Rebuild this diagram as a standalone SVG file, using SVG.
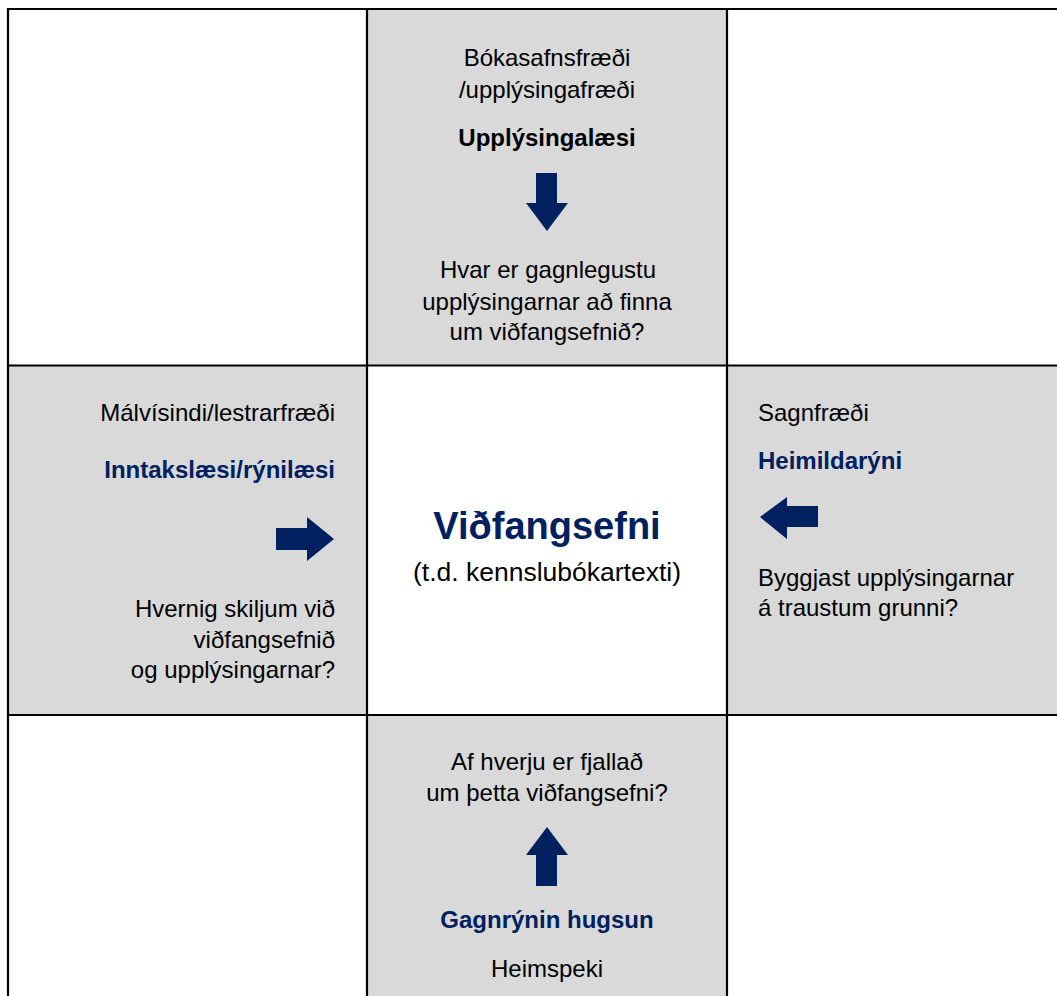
<svg xmlns="http://www.w3.org/2000/svg" width="1057" height="996" viewBox="0 0 1057 996">
<style>
.bg{fill:#ffffff}
.cell{fill:#d9d9d9}
.grid{stroke:#000;stroke-width:2.2;fill:none}
.t{font-family:"Liberation Sans",Arial,sans-serif;font-size:24px;fill:#000}
.b{font-weight:bold}
.n{fill:#002060;font-weight:bold}
.arrow{fill:#002060}
</style>
<rect class="bg" x="0" y="0" width="1057" height="996"/>
<g id="top-cell">
<rect class="cell" x="367" y="9" width="360" height="356"/>
<text class="t" x="547" y="66" text-anchor="middle">Bókasafnsfræði</text>
<text class="t" x="547" y="98" text-anchor="middle">/upplýsingafræði</text>
<text class="t b" x="547" y="146" text-anchor="middle">Upplýsingalæsi</text>
<text class="t" x="548" y="278" text-anchor="middle">Hvar er gagnlegustu</text>
<text class="t" x="547" y="310" text-anchor="middle">upplýsingarnar að finna</text>
<text class="t" x="547" y="340" text-anchor="middle">um viðfangsefnið?</text>
</g>
<g id="left-cell">
<rect class="cell" x="8" y="365" width="359" height="350"/>
<text class="t" x="335" y="421" text-anchor="end">Málvísindi/lestrarfræði</text>
<text class="t n" x="335" y="478" text-anchor="end">Inntakslæsi/rýnilæsi</text>
<text class="t" x="335" y="617" text-anchor="end">Hvernig skiljum við</text>
<text class="t" x="335" y="648" text-anchor="end">viðfangsefnið</text>
<text class="t" x="335" y="678" text-anchor="end">og upplýsingarnar?</text>
</g>
<g id="center-cell">
<text class="t n" x="547" y="539" text-anchor="middle" style="font-size:38px">Viðfangsefni</text>
<text class="t" x="547" y="581" text-anchor="middle" style="font-size:26.5px">(t.d. kennslubókartexti)</text>
</g>
<g id="right-cell">
<rect class="cell" x="727" y="365" width="330" height="350"/>
<text class="t" x="758" y="421">Sagnfræði</text>
<text class="t n" x="758" y="469">Heimildarýni</text>
<text class="t" x="758" y="586">Byggjast upplýsingarnar</text>
<text class="t" x="758" y="616">á traustum grunni?</text>
</g>
<g id="bottom-cell">
<rect class="cell" x="367" y="715" width="360" height="281"/>
<text class="t" x="547" y="770" text-anchor="middle">Af hverju er fjallað</text>
<text class="t" x="547" y="801" text-anchor="middle">um þetta viðfangsefni?</text>
<text class="t n" x="547" y="928" text-anchor="middle">Gagnrýnin hugsun</text>
<text class="t" x="547" y="977" text-anchor="middle">Heimspeki</text>
</g>
<g id="connectors">
<polygon class="arrow" points="536,173 557,173 557,203 568,203 547,231 526,203 536,203"/>
<polygon class="arrow" points="276,528 307,528 307,517 334,539 307,561 307,550 276,550"/>
<polygon class="arrow" points="818,506 787,506 787,497 760,517 787,539 787,527 818,527"/>
<polygon class="arrow" points="536,886 557,886 557,855 568,855 547,827 526,855 536,855"/>
</g>
<g id="grid">
<path class="grid" d="M8,9 H1057 M8,8 V996 M367,9 V996 M727,9 V996 M8,365.5 H1057 M8,715 H1057"/>
</g>
</svg>
